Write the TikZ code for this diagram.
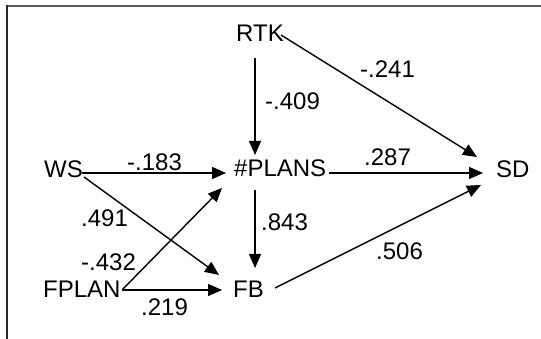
\documentclass[tikz,border=0pt]{standalone}
\usepackage{fontspec}
\setmainfont{Liberation Sans}
\usetikzlibrary{arrows.meta}
\begin{document}
\begin{tikzpicture}[x=1pt,y=-1pt,
  txt/.style={anchor=base west,inner sep=0pt,font=\fontsize{24}{28}\selectfont},
  arr/.style={line width=1.4pt,-{Triangle[length=14pt,width=12pt]}},
  frame/.style={line width=2pt,draw=black!65}]
\useasboundingbox (0,0) rectangle (541,339);
% open frame: top and left edges only
\draw[frame] (7,6) -- (541,6);
\draw[line width=1.6pt,draw=black!85] (7,5) -- (7,339);

% variables
\node[txt] (rtk)   at (236,42)  {RTK};
\node[txt] (plans) at (234,177) {\#PLANS};
\node[txt] (ws)    at (44,178)  {WS};
\node[txt] (sd)    at (496,178) {SD};
\node[txt] (fplan) at (43,298)  {FPLAN};
\node[txt] (fb)    at (233,298) {FB};

% path coefficients
\node[txt] (c183) at (127,171) {-.183};
\node[txt] (c409) at (265,110) {-.409};
\node[txt] (c241) at (360,78)  {-.241};
\node[txt] (c287) at (364,166) {.287};
\node[txt] (c843) at (261,231) {.843};
\node[txt] (c506) at (376,259) {.506};
\node[txt] (c491) at (81,227)  {.491};
\node[txt] (c432) at (81,270)  {-.432};
\node[txt] (c219) at (141,315) {.219};

% connector end points
\coordinate (ws-e)     at (82,173);
\coordinate (ws-se)    at (84,177);
\coordinate (plans-w)  at (226,173);
\coordinate (plans-sw) at (222,188);
\coordinate (plans-e)  at (329,173);
\coordinate (plans-n)  at (255,155);
\coordinate (plans-s)  at (255,190);
\coordinate (rtk-s)    at (255,58);
\coordinate (rtk-e)    at (281,35);
\coordinate (sd-w)     at (483,173);
\coordinate (sd-nw)    at (477,157);
\coordinate (sd-sw)    at (481,185);
\coordinate (fb-n)     at (255,268);
\coordinate (fb-nw)    at (219,275);
\coordinate (fb-w)     at (222,290);
\coordinate (fb-e)     at (275,288);
\coordinate (fplan-e)  at (122,290);

\draw[arr] (ws-e) -- (plans-w);
\draw[arr] (ws-se) -- (fb-nw);
\draw[arr] (fplan-e) -- (plans-sw);
\draw[arr] (fplan-e) -- (fb-w);
\draw[arr] (rtk-s) -- (plans-n);
\draw[arr] (plans-s) -- (fb-n);
\draw[arr] (plans-e) -- (sd-w);
\draw[arr] (rtk-e) -- (sd-nw);
\draw[arr] (fb-e) -- (sd-sw);
\end{tikzpicture}
\end{document}
